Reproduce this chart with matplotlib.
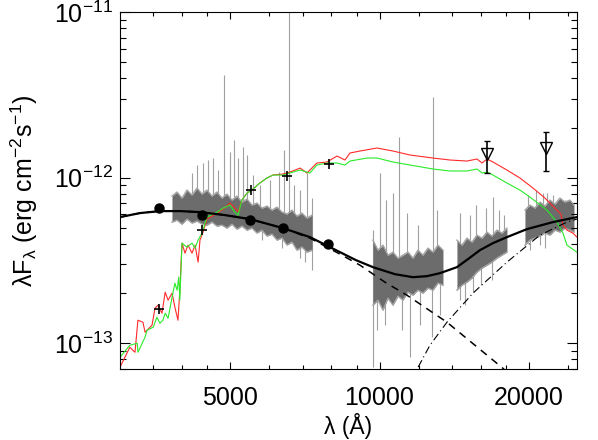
import numpy as np
import matplotlib
matplotlib.use("Agg")
import matplotlib.pyplot as plt
from matplotlib.ticker import FixedLocator, FuncFormatter, NullFormatter, LogFormatterSciNotation

plt.rcParams['font.family'] = ['Liberation Sans', 'DejaVu Sans']
plt.rcParams['mathtext.fontset'] = 'custom'
plt.rcParams['mathtext.rm'] = 'Liberation Sans'
plt.rcParams['mathtext.it'] = 'Liberation Sans'

U = 1e-13  # fluxes below are in units of 1e-13 erg cm^-2 s^-1

# model spectra (red / green)
red_w = [3000,3140,3216,3260,3337,3370,3480,3529,3578,3645,3700,3750,3820,3870,3926,3960,4000,4056,4113,4190,4250,4310,4348,4409,4490,4710,4840,5000,5110,5190,5280,5410,5530,5740,5930,6100,6390,6600,6920,7140,7480,7840,8210,8520,8720,9133,9880,10650,11520,12820,13870,15010,15720,16090,16470,16930,18060,19190,20379,21545,22779,23205,23422,23860,24534,24994]
red_f = [0.717,0.947,0.883,1.379,1.341,1.167,1.286,1.629,1.699,1.520,2.036,1.821,2.008,1.652,1.379,2.093,4.026,3.503,3.915,3.503,3.915,3.091,4.197,4.692,5.622,6.112,6.462,7.025,6.553,6.197,7.324,8.073,8.417,9.279,9.948,10.37,10.52,10.81,11.43,10.67,12.26,12.43,13.51,12.78,14.09,14.48,15.10,14.48,13.70,13.14,12.78,12.60,12.96,12.26,12.96,12.43,11.12,9.948,8.655,7.531,6.372,6.027,5.171,4.824,4.627,4.376]
green_w = [3000,3140,3250,3260,3370,3400,3500,3560,3610,3660,3700,3750,3820,3870,3910,3940,3960,4000,4090,4190,4250,4310,4390,4490,4710,4840,5000,5110,5190,5280,5410,5530,5740,5930,6100,6390,6600,6920,7140,7240,7480,7840,8210,8520,8720,9440,9880,10650,11520,12820,13870,15010,15720,16090,16470,16930,18062,19186,20097,21746,22779,23422,23860,24994]
green_f = [0.824,0.974,1.001,0.883,1.089,1.200,1.251,1.438,1.323,1.379,1.520,1.418,1.899,2.308,2.093,2.508,1.821,4.026,3.808,4.026,3.755,4.197,4.627,5.781,6.197,6.553,6.832,6.197,5.944,7.324,8.073,8.417,9.279,9.948,10.37,10.37,10.67,11.12,10.81,10.67,11.92,12.26,12.26,11.92,12.60,13.14,13.14,12.43,11.92,11.28,10.97,10.97,11.28,10.67,10.81,10.37,9.279,8.417,7.636,6.372,5.392,4.627,3.915,3.552]

# fitted components: total, stellar (dashed), dust (dash-dot)
total_w = [3000,3291,3611,3963,4348,4882,5483,6390,7243,8324,8965,9701,10743,11678,12462,13237,14323,15073,15936,16927,18062,19819,22360,24994]
total_f = [5.781,6.112,6.284,6.284,6.197,5.944,5.622,4.960,4.376,3.552,3.178,2.883,2.615,2.508,2.544,2.652,2.883,3.222,3.652,4.026,4.376,4.892,5.392,5.781]
star_w = [3000,3291,3611,3963,4348,4882,5483,6390,7243,8324,9133,10256,11358,13674,15570,17730,20097]
star_f = [5.781,6.112,6.284,6.284,6.197,5.944,5.622,4.960,4.316,3.455,2.964,2.340,1.952,1.341,0.974,0.707,0.486]
dust_w = [11253,11897,12637,13674,15426,18062,21051,23860,24994]
dust_f = [0.486,0.697,0.974,1.341,2.008,3.091,4.500,5.392,5.622]

# photometry
phot_w = [3600,4380,5480,6390,7880]
phot_f = [6.553,5.944,5.544,4.960,3.970]
model_w = [3600,4390,5510,6510,7910]
model_f = [1.607,4.824,8.417,10.23,12.09]
nir_w = [16500,21700]
nir_f = [13.89,15.10]
nir_lo = [10.62,10.97]
nir_hi = [16.65,18.87]

# observed spectrum: noise envelope per segment
seg_w = [
    [3818,3908,4000,4094,4190,4288,4389,4492,4597,4704,4815,4927,5044,5162,5283,5407,5534,5664,5797,5933,6072,6215,6361,6510,6663,6819,6979,7142,7311],
    [9701,9929,10162,10400,10644,10894,11149,11411,11678,11952,12233,12520,12814,13115,13423],
    [14323,14660,15003,15355,15715,16085,16462,16849,17244,17648,18062],
    [19636,20097,20569,21051,21545,22051,22569,23098,23640,24195,24648],
]
seg_hi = [
    [7.74,8.19,7.53,8.42,7.85,8.66,7.96,8.42,7.74,8.19,7.53,7.96,7.32,7.74,7.12,7.43,6.83,7.03,6.55,6.74,6.37,6.64,6.20,6.03,6.37,5.86,6.11,5.70,5.94],
    [4.197,3.652,3.915,3.407,3.552,3.267,3.407,3.552,3.267,3.652,3.407,3.755,3.552,3.915,3.652],
    [4.197,3.915,4.316,4.082,4.500,4.316,4.692,4.438,4.824,4.627,4.960],
    [6.372,6.832,6.553,7.123,6.737,7.324,6.928,7.531,7.123,7.324,6.832],
]
seg_lo = [
    [5.39,5.54,5.24,5.62,5.32,5.47,5.24,5.17,5.39,5.10,5.17,4.96,5.24,4.89,5.10,4.82,4.96,4.63,4.82,4.44,4.56,4.20,4.32,3.92,4.08,3.65,3.81,3.55,3.65],
    [1.699,1.821,1.585,1.873,1.699,1.925,1.821,2.036,1.952,2.093,2.008,2.153,2.093,2.308,2.244],
    [2.093,2.244,2.340,2.474,2.689,2.843,2.964,3.091,3.267,3.407,3.552],
    [3.915,4.197,4.316,4.438,4.627,4.500,4.824,4.692,4.960,4.824,4.692],
]
# emission / noise spikes
spike_w = [4190,4288,4409,4512,4618,4726,4859,4997,5091,5186,5307,5407,5560,5743,6016,6273,6420,6571,6725,6914,7142,7311,
           6914,7076,7311,6361,5797,
           9701,10021,10304,10644,10945,11358,12814,13054,11952,
           9701,9883,10256,11098,11517,12064,12755,13237,
           14524,15213,15642,16386,16927,17405,17812,
           14524,14865,15426,16010,16849,
           19911,20664,21346,21746,22360,23640,
           20097,21051,21545]
spike_hi = [10.7,11.9,12.3,12.8,13.1,11.1,41.7,14.3,16.9,13.1,15.3,13.7,10.4,9.03,9.68,10.8,14.7,110,9.03,8.42,10.7,7.54,
            4.7,4.51,4.51,5.18,5.55,
            4.83,10.7,7.33,8.08,17.6,6.12,30.7,6.38,5.18,
            2.77,2.77,2.77,2.7,2.7,2.77,2.85,2.97,
            6.12,5.95,6.84,6.56,7.64,6.38,5.95,
            2.97,3.1,3.27,3.41,3.76,
            7.86,8.42,8.08,8.08,7.86,7.33,
            5.18,5.4,5.55]
spike_lo = [6.38,6.38,6.38,6.21,6.21,6.21,6.04,6.04,5.95,5.95,5.87,5.87,5.71,5.55,5.4,5.18,5.11,4.97,4.83,4.7,4.51,4.2,
            3.27,3.1,2.77,3.76,4.2,
            2.77,2.77,2.77,2.7,2.7,2.7,2.85,2.85,2.77,
            0.72,1.2,1.29,1.2,0.827,1.29,1.09,1.48,
            2.97,3.18,3.41,3.66,3.76,3.92,4.09,
            1.83,1.7,2.04,2.25,2.41,
            5.18,5.4,5.55,5.71,5.79,5.95,
            3.66,3.92,3.76]

x_major = [5000, 10000, 20000]
x_minor = [3500, 4000, 4500, 6000, 7000, 8000, 9000, 12000, 14000, 16000, 18000, 24000]
y_major = [1e-13, 1e-12, 1e-11]

fig = plt.figure(figsize=(5.98, 4.40), dpi=100)
ax = fig.add_axes([120/598, 1-369/440, 457/598, 357/440])
ax.set_xscale("log")
ax.set_yscale("log")

# observed spectrum
ax.vlines(spike_w, np.array(spike_lo)*U, np.array(spike_hi)*U, color="#a0a0a0", lw=0.8, zorder=1)
for w, hi, lo in zip(seg_w, seg_hi, seg_lo):
    hi = np.array(hi)*U
    lo = np.array(lo)*U
    ax.fill_between(w, lo, hi, color="#6c6c6c", lw=0, zorder=1.5)
    ax.plot(w, hi, color="#a4a4a4", lw=1.0, zorder=1.6)
    ax.plot(w, lo, color="#a4a4a4", lw=1.0, zorder=1.6)

ax.plot(red_w, np.array(red_f)*U, color="#ff2a2a", lw=0.8, zorder=2)
ax.plot(green_w, np.array(green_f)*U, color="#2aea2a", lw=0.8, zorder=2.1)

ax.plot(star_w, np.array(star_f)*U, color="k", lw=1.1, ls=(0, (5, 4)), zorder=3)
ax.plot(dust_w, np.array(dust_f)*U, color="k", lw=0.8, ls=(0, (7, 3, 1, 3)), zorder=3)
ax.plot(total_w, np.array(total_f)*U, color="k", lw=1.6, zorder=3.1)

ax.plot(phot_w, np.array(phot_f)*U, "o", color="k", ms=6.5, zorder=4)
ax.plot(model_w, np.array(model_f)*U, "+", color="k", ms=7, mew=1.2, zorder=4)
nf = np.array(nir_f)*U
ax.errorbar(nir_w, nf, yerr=[nf - np.array(nir_lo)*U, np.array(nir_hi)*U - nf],
            fmt="v", mfc="none", mec="k", ecolor="k", ms=8.5, mew=1.0, elinewidth=1.2,
            capsize=2.5, capthick=1.0, zorder=4)

ax.set_xlim(3000, 25000)
ax.set_ylim(7e-14, 1e-11)

ax.xaxis.set_major_locator(FixedLocator(x_major))
ax.xaxis.set_major_formatter(FuncFormatter(lambda v, p: "%d" % v))
ax.xaxis.set_minor_locator(FixedLocator(x_minor))
ax.xaxis.set_minor_formatter(NullFormatter())
y_minor = [m * d for d in (1e-14, 1e-13, 1e-12) for m in range(2, 10) if 7e-14 <= m * d <= 1e-11]
ax.yaxis.set_major_locator(FixedLocator(y_major))
ax.yaxis.set_major_formatter(LogFormatterSciNotation())
ax.yaxis.set_minor_locator(FixedLocator(y_minor))
ax.yaxis.set_minor_formatter(NullFormatter())

ax.tick_params(which="both", direction="in", top=True, right=True, width=0.8, labelsize=18)
ax.tick_params(axis="x", which="major", length=5, pad=12)
ax.tick_params(axis="x", which="minor", length=3)
ax.tick_params(axis="y", which="major", length=7.5, pad=5)
ax.tick_params(axis="y", which="minor", length=4.5)
for s in ax.spines.values():
    s.set_linewidth(0.8)

ax.set_xlabel("λ (Å)", fontsize=16.5)
ax.xaxis.set_label_coords(0.5, -0.122)
ax.set_ylabel("λF$_{\\mathrm{λ}}$ (erg cm$^{\\mathrm{-2}}$s$^{\\mathrm{-1}}$)", fontsize=18)
ax.yaxis.set_label_coords(-0.175, 0.5)

fig.savefig("out.png", dpi=100)
